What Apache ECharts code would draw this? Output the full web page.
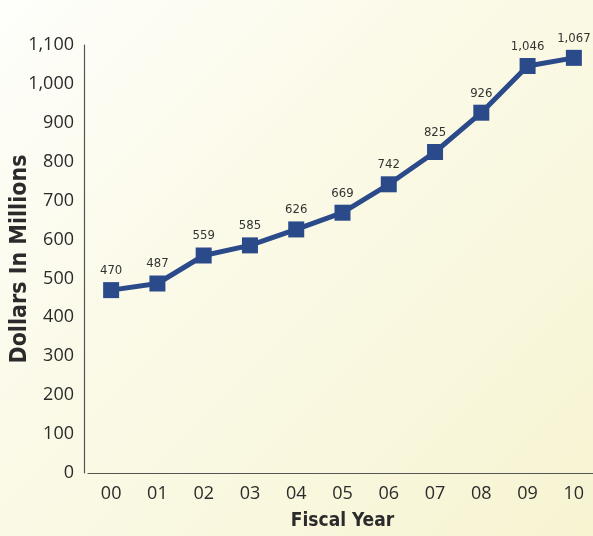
<!DOCTYPE html>
<html>
<head>
<meta charset="utf-8">
<script src="https://cdn.jsdelivr.net/npm/echarts@6/dist/echarts.min.js"></script>
<style>
  html, body { margin: 0; padding: 0; }
  body {
    width: 593px; height: 536px;
    background: linear-gradient(135deg, #fefefb 0%, #fbfae8 40%, #f7f4d2 100%);
  }
  #chart { width: 593px; height: 536px; }
</style>
</head>
<body>
<div id="chart"></div>
<script>
var years = ['00', '01', '02', '03', '04', '05', '06', '07', '08', '09', '10'];
var dollars = [470, 487, 559, 585, 626, 669, 742, 825, 926, 1046, 1067];

var myChart = echarts.init(document.getElementById('chart'), null, {renderer: 'canvas'});

var titleFont = "'DejaVu Sans Condensed', 'Open Sans', sans-serif";

var option = {
  backgroundColor: 'transparent',
  grid: { left: 88, right: -4, top: 45, bottom: 63, outerBoundsMode: 'none', containLabel: false },
  xAxis: {
    type: 'category',
    data: years,
    name: 'Fiscal Year',
    nameLocation: 'middle',
    nameGap: 39,
    nameMoveOverlap: false,
    nameTextStyle: { fontFamily: titleFont, fontWeight: 'bold', fontSize: 19, color: '#2b2b2b' },
    axisLine: { lineStyle: { color: '#555', width: 1.2 } },
    axisTick: { show: false },
    axisLabel: { fontFamily: 'Open Sans', fontSize: 18, color: '#2b2b2b', margin: 12 }
  },
  yAxis: {
    type: 'value',
    min: 0,
    max: 1100,
    interval: 100,
    offset: 4,
    name: 'Dollars In Millions',
    nameLocation: 'middle',
    nameGap: 52,
    nameMoveOverlap: false,
    nameRotate: 90,
    nameTextStyle: { fontFamily: titleFont, fontWeight: 'bold', fontSize: 23, color: '#2b2b2b', padding: [0, 0, 0, 0] },
    axisLine: { show: true, lineStyle: { color: '#555', width: 1.2 } },
    axisTick: { show: false },
    splitLine: { show: false },
    axisLabel: {
      fontFamily: 'Open Sans', fontSize: 18, color: '#2b2b2b', margin: 10,
      formatter: function (v) { return v.toLocaleString('en-US'); }
    }
  },
  series: [{
    type: 'line',
    data: dollars,
    symbol: 'rect',
    symbolSize: 16,
    lineStyle: { color: '#2a4a8a', width: 5 },
    itemStyle: { color: '#2a4a8a' },
    label: {
      show: true,
      position: 'top',
      distance: 5,
      fontFamily: "'DejaVu Sans Condensed', sans-serif",
      fontSize: 13,
      color: '#333',
      formatter: function (p) { return p.value.toLocaleString('en-US'); }
    },
    animation: false
  }]
};

myChart.setOption(option);
</script>
</body>
</html>
